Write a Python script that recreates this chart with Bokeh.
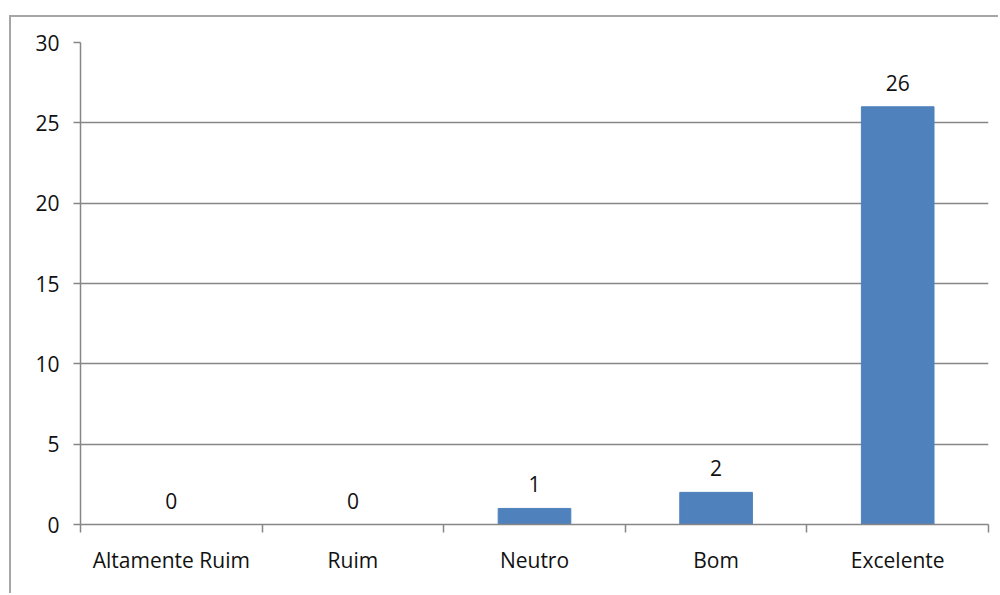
from bokeh.plotting import figure
from bokeh.models import FixedTicker, ColumnDataSource, Range1d
from bokeh.embed import file_html
from bokeh.resources import INLINE
from bokeh.core.properties import value

categories = ["Altamente Ruim", "Ruim", "Neutro", "Bom", "Excelente"]
counts = [0, 0, 1, 2, 26]
y_ticks = [0, 5, 10, 15, 20, 25, 30]

xs = [i + 0.5 for i in range(len(categories))]
src = ColumnDataSource(dict(x=xs, top=counts, label=[str(c) for c in counts]))

FONT = "Open Sans"
FSIZE = "21px"
GRID = "#868686"

p = figure(width=989, height=578, output_backend="svg", toolbar_location=None,
           x_range=Range1d(0, len(categories)), y_range=Range1d(0, 30),
           min_border_left=69, min_border_right=12, min_border_top=25, min_border_bottom=71)
p.margin = (15, 0, 0, 9)
p.styles = {"border-left": "2px solid #a6a6a6", "border-top": "2px solid #a6a6a6"}
p.outline_line_color = None
p.background_fill_color = "white"
p.border_fill_color = "white"

p.vbar(x="x", top="top", width=0.4, bottom=0, source=src, fill_color="#4F81BD", line_color="#4F81BD")
p.text(x="x", y="top", text="label", source=src, text_align="center", text_baseline="alphabetic",
       y_offset=-24, text_font=value(FONT), text_font_size=FSIZE, text_color="#111111")

p.xgrid.visible = False
p.ygrid.ticker = FixedTicker(ticks=y_ticks)
p.ygrid.grid_line_color = GRID
p.ygrid.grid_line_width = 1.5

xa = p.xaxis[0]
xa.ticker = FixedTicker(ticks=xs, minor_ticks=list(range(len(categories) + 1)))
xa.major_label_overrides = {x: c for x, c in zip(xs, categories)}
xa.major_tick_out = 0
xa.major_tick_in = 0
xa.minor_tick_out = 8
xa.minor_tick_in = 0
xa.minor_tick_line_color = GRID
xa.minor_tick_line_width = 1.5
xa.axis_line_color = GRID
xa.axis_line_width = 1.5
xa.major_label_standoff = 13
xa.major_label_text_font = FONT
xa.major_label_text_font_size = FSIZE
xa.major_label_text_color = "#111111"

ya = p.yaxis[0]
ya.ticker = FixedTicker(ticks=y_ticks)
ya.major_tick_out = 7
ya.major_tick_in = 0
ya.minor_tick_out = 0
ya.minor_tick_in = 0
ya.major_tick_line_color = GRID
ya.major_tick_line_width = 1.5
ya.axis_line_color = GRID
ya.axis_line_width = 1.5
ya.major_label_standoff = 14
ya.major_label_text_font = FONT
ya.major_label_text_font_size = FSIZE
ya.major_label_text_color = "#111111"

open("out.html", "w").write(file_html(p, INLINE))
